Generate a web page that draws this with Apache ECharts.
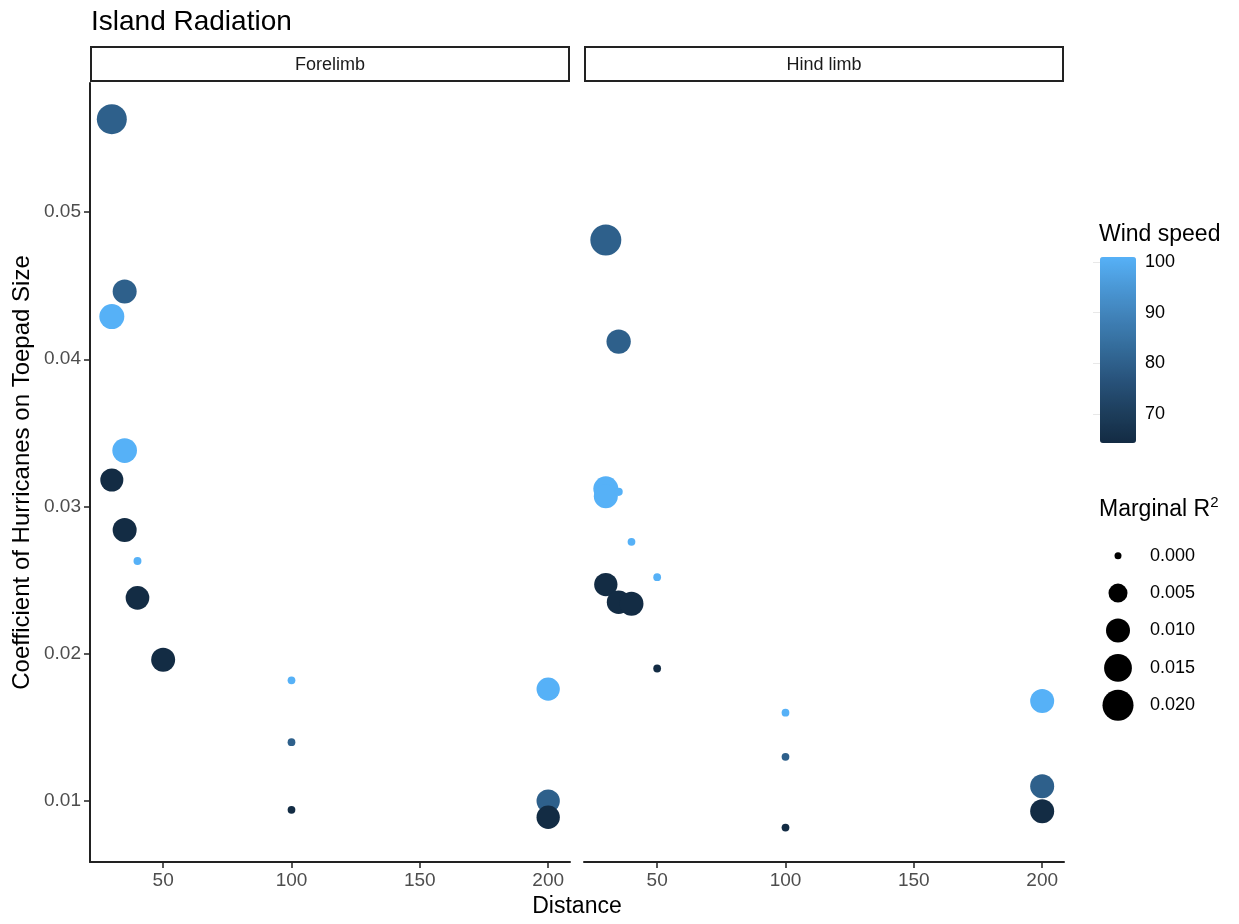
<!DOCTYPE html>
<html>
<head>
<meta charset="utf-8">
<script src="https://cdn.jsdelivr.net/npm/echarts@6/dist/echarts.min.js"></script>
<style>
  html, body { margin: 0; padding: 0; background: #fff; }
  #main { width: 1239px; height: 924px; }
</style>
</head>
<body>
<div id="main"></div>
<script>
// data
var facets = ['Forelimb', 'Hind limb'];

var foreDist = [30, 35, 30, 35, 30, 35, 40, 40, 50, 100, 100, 100, 200, 200, 200];
var foreCoef = [0.0563, 0.0446, 0.0429, 0.0338, 0.0318, 0.0284, 0.0263, 0.0238, 0.0196, 0.0182, 0.0140, 0.0094, 0.0176, 0.0100, 0.0089];
var foreWind = [80, 80, 101, 101, 64.5, 64.5, 101, 64.5, 64.5, 101, 80, 64.5, 101, 80, 64.5];
var foreR2 = [0.0183, 0.0100, 0.0112, 0.0108, 0.0089, 0.0100, 0.00003, 0.0096, 0.0100, 0.00002, 0.00002, 0.00002, 0.0092, 0.0092, 0.0092];

var hindDist = [30, 35, 30, 30, 35, 40, 50, 30, 35, 40, 50, 100, 100, 100, 200, 200, 200];
var hindCoef = [0.0481, 0.0412, 0.0312, 0.0307, 0.0310, 0.0276, 0.0252, 0.0247, 0.0235, 0.0234, 0.0190, 0.0160, 0.0130, 0.0082, 0.0168, 0.0110, 0.0093];
var hindWind = [80, 80, 101, 101, 101, 101, 101, 64.5, 64.5, 64.5, 64.5, 101, 80, 64.5, 101, 80, 64.5];
var hindR2 = [0.0199, 0.0104, 0.0112, 0.0100, 0.00005, 0.00002, 0.00002, 0.0092, 0.0096, 0.0100, 0.00002, 0.00002, 0.00002, 0.00002, 0.0100, 0.0100, 0.0100];

var xTicks = [50, 100, 150, 200];
var yTicks = [0.01, 0.02, 0.03, 0.04, 0.05];
var windTicks = [70, 80, 90, 100];
var r2Legend = [0.000, 0.005, 0.010, 0.015, 0.020];

// ggplot-like area scale for size
function dia(r2) { return 7 + 170 * Math.sqrt(Math.max(r2, 0)); }

function pts(d, c, w, r) {
  var out = [];
  for (var i = 0; i < d.length; i++) out.push([d[i], c[i], w[i], r[i]]);
  return out;
}

var myChart = echarts.init(document.getElementById('main'));
var FONT = 'Liberation Sans, Arial, sans-serif';
var axisCol = '#222';

function xAx(idx) {
  return {
    type: 'value', gridIndex: idx, min: 21.5, max: 208.5,
    splitLine: { show: false },
    axisLine: { show: true, onZero: false, lineStyle: { color: axisCol, width: 2 } },
    axisTick: { show: true, length: 6, customValues: xTicks, lineStyle: { color: axisCol, width: 1.5 } },
    axisLabel: { customValues: xTicks, color: '#4d4d4d', fontSize: 19, fontFamily: FONT, margin: 9 }
  };
}
function yAx(idx) {
  return {
    type: 'value', gridIndex: idx, min: 0.00586, max: 0.05876,
    splitLine: { show: false },
    name: idx === 0 ? 'Coefficient of Hurricanes on Toepad Size' : '',
    nameLocation: 'middle', nameGap: 56, nameRotate: 90,
    nameTextStyle: { color: '#000', fontSize: 24, fontFamily: FONT },
    axisLine: { show: idx === 0, onZero: false, lineStyle: { color: axisCol, width: 2 } },
    axisTick: { show: idx === 0, length: 6, customValues: yTicks, lineStyle: { color: axisCol, width: 1.5 } },
    axisLabel: {
      show: idx === 0, customValues: yTicks, color: '#4d4d4d', fontSize: 19, fontFamily: FONT, margin: 9,
      formatter: function (v) { return v.toFixed(2); }
    }
  };
}

function scatter(idx, data) {
  return {
    type: 'scatter', xAxisIndex: idx, yAxisIndex: idx,
    data: data,
    symbolSize: function (v) { return dia(v[3]); },
    itemStyle: { opacity: 1 },
    emphasis: { disabled: true }
  };
}

var option = {
  backgroundColor: '#fff',
  animation: false,
  title: {
    text: 'Island Radiation', left: 86, top: 3,
    textStyle: { color: '#000', fontSize: 28, fontWeight: 'normal', fontFamily: FONT }
  },
  grid: [
    { left: 90, top: 83, width: 480, height: 779 },
    { left: 584, top: 83, width: 480, height: 779 },
    // colour bar labels
    { left: 1100, top: 257, width: 36, height: 186 },
    // size legend
    { left: 1100, top: 537, width: 36, height: 187 }
  ],
  xAxis: [
    xAx(0), xAx(1),
    { type: 'value', gridIndex: 2, show: false },
    { type: 'value', gridIndex: 3, show: false, min: 0, max: 1 }
  ],
  yAxis: [
    yAx(0), yAx(1),
    {
      type: 'value', gridIndex: 2, min: 64.3, max: 101, position: 'right', z: 10,
      splitLine: { show: false }, axisLine: { show: false },
      axisTick: { show: true, inside: true, length: 7, customValues: windTicks, lineStyle: { color: '#e8e8e8', width: 1 } },
      axisLabel: { customValues: windTicks, color: '#000', fontSize: 18, fontFamily: FONT, margin: 9 }
    },
    {
      type: 'category', gridIndex: 3, inverse: true, position: 'right',
      data: r2Legend.map(function (v) { return v.toFixed(3); }),
      splitLine: { show: false }, axisLine: { show: false }, axisTick: { show: false },
      axisLabel: { color: '#000', fontSize: 18, fontFamily: FONT, margin: 14 }
    }
  ],
  visualMap: {
    type: 'continuous', min: 64.3, max: 101, dimension: 2, seriesIndex: [0, 1],
    calculable: false, show: true, left: 1100, top: 257, padding: 0, z: 2,
    itemWidth: 36, itemHeight: 186, text: ['', ''], showLabel: false,
    inRange: { color: ['#132B43', '#1D3E5C', '#28527A', '#336A98', '#3F80B6', '#4A97D5', '#56B1F7'] }
  },
  series: [
    scatter(0, pts(foreDist, foreCoef, foreWind, foreR2)),
    scatter(1, pts(hindDist, hindCoef, hindWind, hindR2)),
    {
      type: 'scatter', xAxisIndex: 3, yAxisIndex: 3,
      data: r2Legend.map(function (v, i) { return [0.5, i, v]; }),
      symbolSize: function (v) { return dia(v[2]); },
      itemStyle: { color: '#000', opacity: 1 },
      emphasis: { disabled: true }
    }
  ],
  graphic: [
    { type: 'rect', shape: { x: 91, y: 47, width: 478, height: 34 }, style: { fill: '#fff', stroke: '#222', lineWidth: 2 } },
    { type: 'rect', shape: { x: 585, y: 47, width: 478, height: 34 }, style: { fill: '#fff', stroke: '#222', lineWidth: 2 } },
    { type: 'text', x: 330, y: 65, style: { text: facets[0], fill: '#1a1a1a', fontSize: 18, fontFamily: FONT, align: 'center', verticalAlign: 'middle' } },
    { type: 'text', x: 824, y: 65, style: { text: facets[1], fill: '#1a1a1a', fontSize: 18, fontFamily: FONT, align: 'center', verticalAlign: 'middle' } },
    { type: 'text', x: 577, y: 907, style: { text: 'Distance', fill: '#000', fontSize: 23, fontFamily: FONT, align: 'center', verticalAlign: 'middle' } },
    { type: 'text', x: 1099, y: 235, style: { text: 'Wind speed', fill: '#000', fontSize: 23, fontFamily: FONT, verticalAlign: 'middle' } },
    {
      type: 'text', x: 1099, y: 510,
      style: {
        text: 'Marginal R{sup|2}', fill: '#000', fontSize: 23, fontFamily: FONT, verticalAlign: 'middle',
        rich: { sup: { fontSize: 15, verticalAlign: 'top', padding: [0, 0, 14, 0], fontFamily: FONT } }
      }
    }
  ]
};

myChart.setOption(option);
</script>
</body>
</html>
